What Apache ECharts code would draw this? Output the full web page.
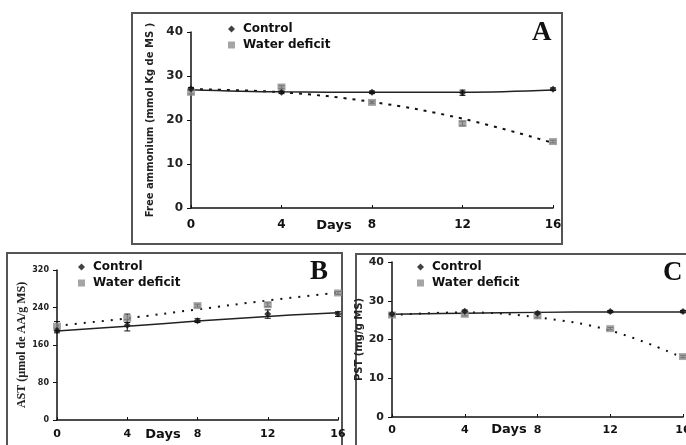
<!DOCTYPE html>
<html>
<head>
<meta charset="utf-8">
<script src="https://cdn.jsdelivr.net/npm/echarts@6/dist/echarts.min.js"></script>
<style>
  html, body { margin: 0; padding: 0; background: #fff; }
  #chart { width: 686px; height: 445px; }
</style>
</head>
<body>
<div id="chart"></div>
<script>
  // sampling days, shared by the three panels
  const days = [0, 4, 8, 12, 16];
  const xTicks = ['0', '4', '8', '12', '16'];

  // A - free ammonium
  const ctrlA = [27.1, 26.3, 26.3, 26.2, 27.0];
  const ctrlErrA = [0.3, 0.3, 0.3, 0.6, 0.3];
  const waterA = [26.3, 27.5, 24.0, 19.2, 15.1];
  const waterErrA = [0.4, 0.3, 0.3, 0.5, 0.3];
  const ctrlFitA = [26.9, 26.4, 26.3, 26.3, 26.8];
  const waterFitA = [27.0, 26.3, 24.1, 20.3, 14.8];

  // B - AST
  const ctrlB = [191, 202, 212, 226, 226];
  const ctrlErrB = [5, 12, 4, 9, 5];
  const waterB = [200, 217, 244, 246, 271];
  const waterErrB = [10, 9, 3, 4, 3];
  const ctrlFitB = [190, 200, 211, 221, 229];
  const waterFitB = [201, 217, 236, 255, 272];

  // C - PST
  const ctrlC = [26.6, 27.3, 26.8, 27.2, 27.2];
  const ctrlErrC = [0.3, 0.3, 0.3, 0.3, 0.3];
  const waterC = [26.3, 26.5, 26.1, 22.8, 15.6];
  const waterErrC = [0.3, 0.4, 0.5, 0.3, 0.3];
  const ctrlFitC = [26.5, 26.8, 27.0, 27.1, 27.1];
  const waterFitC = [26.3, 27.0, 25.7, 22.3, 15.3];

  const sans = 'DejaVu Sans';
  const serif = 'Liberation Serif';
  const grayMark = '#8e8e8e';

  function pairs (vals) {
    return days.map((d, i) => [d, vals[i]])
  }
  function errRows (vals, errs) {
    return days.map((d, i) => [d, vals[i] - errs[i], vals[i] + errs[i]])
  }

  function errBar (params, api) {
    const x = api.value(0);
    const lo = api.coord([x, api.value(1)]);
    const hi = api.coord([x, api.value(2)]);
    const w = 3;
    const st = { stroke: '#111', lineWidth: 1 };
    return {
      type: 'group',
      children: [
        { type: 'line', shape: { x1: lo[0], y1: lo[1], x2: hi[0], y2: hi[1] }, style: st },
        { type: 'line', shape: { x1: lo[0] - w, y1: lo[1], x2: lo[0] + w, y2: lo[1] }, style: st },
        { type: 'line', shape: { x1: hi[0] - w, y1: hi[1], x2: hi[0] + w, y2: hi[1] }, style: st }
      ]
    }
  }

  function panelSeries (idx, ctrl, ctrlErr, water, waterErr, ctrlFit, waterFit, dash) {
    return [
      {
        name: 'fitW' + idx, type: 'line', xAxisIndex: idx, yAxisIndex: idx,
        data: pairs(waterFit), smooth: 0.4, showSymbol: false, silent: true,
        lineStyle: { color: '#111', width: 2, type: dash }, z: 2
      },
      {
        name: 'fitC' + idx, type: 'line', xAxisIndex: idx, yAxisIndex: idx,
        data: pairs(ctrlFit), smooth: 0.4, showSymbol: false, silent: true,
        lineStyle: { color: '#222', width: 1.5 }, z: 2
      },
      {
        name: 'errW' + idx, type: 'custom', xAxisIndex: idx, yAxisIndex: idx,
        renderItem: errBar, encode: { x: 0, y: [1, 2] }, data: errRows(water, waterErr), z: 3
      },
      {
        name: 'errC' + idx, type: 'custom', xAxisIndex: idx, yAxisIndex: idx,
        renderItem: errBar, encode: { x: 0, y: [1, 2] }, data: errRows(ctrl, ctrlErr), z: 3
      },
      {
        name: 'Water deficit', type: 'scatter', xAxisIndex: idx, yAxisIndex: idx,
        data: pairs(water), symbol: 'rect', symbolSize: [8, 7],
        itemStyle: { color: grayMark }, z: 4
      },
      {
        name: 'Control', type: 'scatter', xAxisIndex: idx, yAxisIndex: idx,
        data: pairs(ctrl), symbol: 'diamond', symbolSize: 7,
        itemStyle: { color: '#111' }, z: 5
      }
    ]
  }

  function xAx (idx, fontSize, margin) {
    return {
      type: 'value', gridIndex: idx, min: 0, max: 16, interval: 4,
      axisLine: { lineStyle: { color: '#111', width: 1.5 } },
      axisTick: { inside: true, length: 3, lineStyle: { color: '#111' } },
      splitLine: { show: false },
      axisLabel: {
        margin: margin, fontFamily: sans, fontWeight: 'bold', fontSize: fontSize, color: '#111',
        formatter: v => xTicks[days.indexOf(v)]
      }
    }
  }

  function yAx (idx, max, interval, labelSize, name, nameFont, nameSize, nameGap) {
    return {
      type: 'value', gridIndex: idx, min: 0, max: max, interval: interval,
      axisLine: { show: true, lineStyle: { color: '#111', width: 1.5 } },
      axisTick: { show: true, length: 4, lineStyle: { color: '#111' } },
      splitLine: { show: false },
      axisLabel: { margin: 8, fontFamily: sans, fontWeight: 'bold', fontSize: labelSize, color: '#222' },
      name: name, nameLocation: 'middle', nameGap: nameGap,
      nameTextStyle: { fontFamily: nameFont, fontWeight: 'bold', fontSize: nameSize, color: '#222' }
    }
  }

  function legendAt (left, top) {
    return {
      left: left, top: top, orient: 'vertical', itemGap: 2,
      itemWidth: 7, itemHeight: 7, selectedMode: false,
      textStyle: { fontFamily: sans, fontWeight: 'bold', fontSize: 12, color: '#111', lineHeight: 14, padding: [0, 0, 0, 3] },
      data: [
        { name: 'Control', icon: 'diamond', itemStyle: { color: '#111' } },
        { name: 'Water deficit', icon: 'rect', itemStyle: { color: grayMark } }
      ]
    }
  }

  function panelLetter (text, x, y) {
    return {
      type: 'text', left: x, top: y, z: 10,
      style: { text: text, font: 'bold 27px "' + serif + '"', fill: '#111' }
    }
  }

  function daysLabel (cx, cy) {
    return {
      type: 'text', x: cx, y: cy, z: 10,
      style: { text: 'Days', font: 'bold 13px "' + sans + '"', fill: '#111', align: 'center', verticalAlign: 'middle' }
    }
  }

  function box (x, y, w, h) {
    return {
      type: 'rect', z: 0, shape: { x: x, y: y, width: w, height: h },
      style: { fill: 'none', stroke: '#555', lineWidth: 2 }
    }
  }

  const chart = echarts.init(document.getElementById('chart'));
  chart.setOption({
    backgroundColor: '#fff',
    animation: false,
    grid: [
      { left: 191, top: 32, width: 362, height: 176, outerBoundsMode: 'none', containLabel: false },
      { left: 57, top: 270, width: 281, height: 150, outerBoundsMode: 'none', containLabel: false },
      { left: 392, top: 262, width: 291, height: 155, outerBoundsMode: 'none', containLabel: false }
    ],
    xAxis: [xAx(0, 12, 11), xAx(1, 11, 9), xAx(2, 11, 8)],
    yAxis: [
      yAx(0, 40, 10, 12, 'Free ammonium (mmol Kg de MS )', sans, 10, 32),
      yAx(1, 320, 80, 8, 'AST (µmol de AA/g MS)', serif, 12, 25),
      yAx(2, 40, 10, 11, 'PST (mg/g MS)', sans, 10, 21)
    ],
    legend: [legendAt(223, 17), legendAt(73, 255), legendAt(412, 255)],
    graphic: [
      box(132, 13, 430, 231),
      box(7, 253, 335, 200),
      box(356, 254, 340, 200),
      panelLetter('A', 532, 20),
      panelLetter('B', 310, 259),
      panelLetter('C', 663, 260),
      daysLabel(334, 226),
      daysLabel(163, 435),
      daysLabel(509, 430)
    ],
    series: [
      ...panelSeries(0, ctrlA, ctrlErrA, waterA, waterErrA, ctrlFitA, waterFitA, [3, 6]),
      ...panelSeries(1, ctrlB, ctrlErrB, waterB, waterErrB, ctrlFitB, waterFitB, [2, 7]),
      ...panelSeries(2, ctrlC, ctrlErrC, waterC, waterErrC, ctrlFitC, waterFitC, [2, 7])
    ]
  })
</script>
</body>
</html>
